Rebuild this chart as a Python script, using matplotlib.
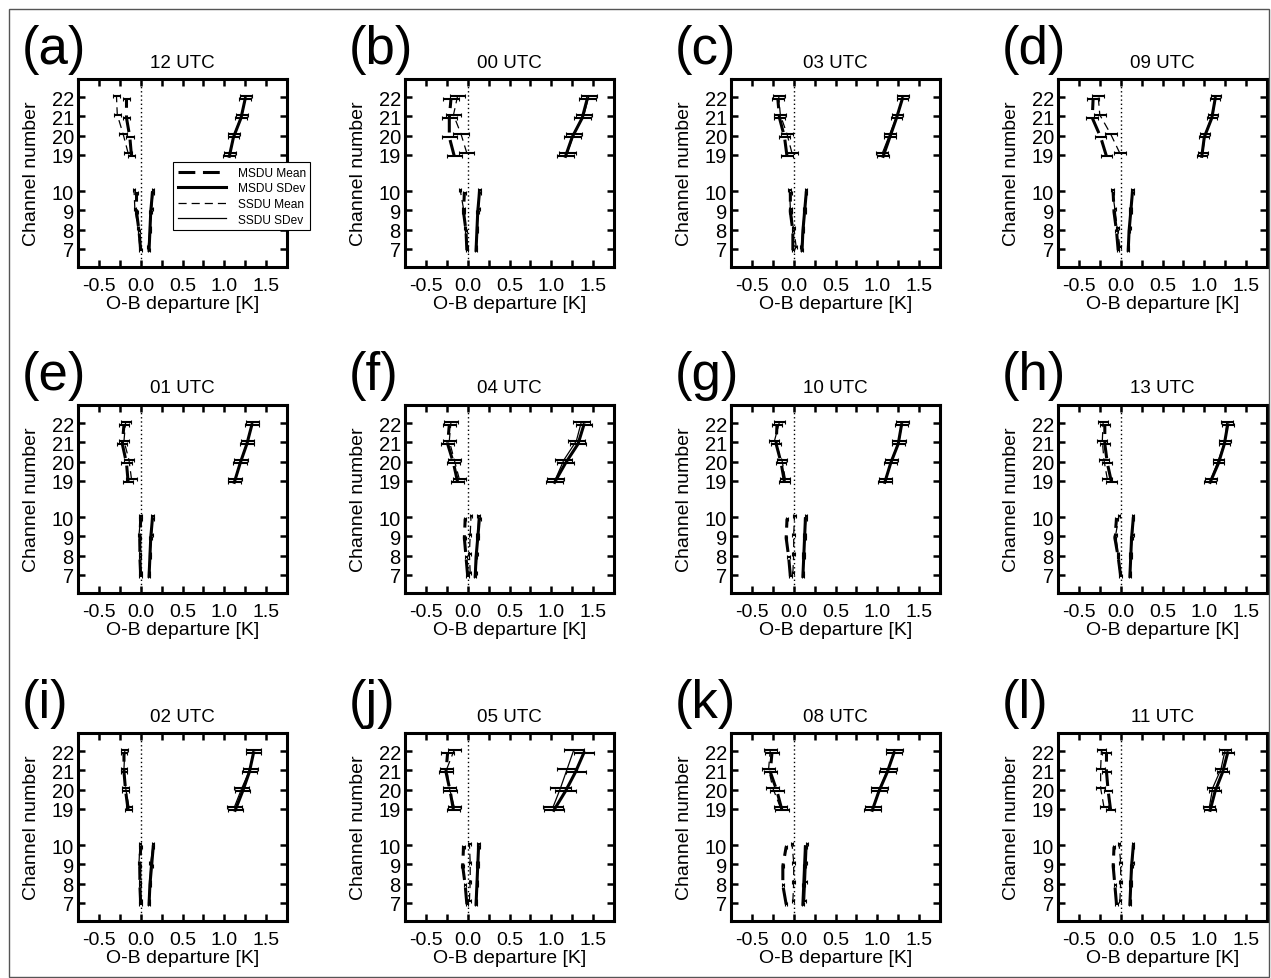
import numpy as np
import matplotlib
matplotlib.use('Agg')
import matplotlib.pyplot as plt
from matplotlib.lines import Line2D
from matplotlib.patches import Rectangle
from matplotlib.ticker import MultipleLocator

plt.rcParams['font.family'] = ['Liberation Sans', 'DejaVu Sans']
plt.rcParams['axes.unicode_minus'] = False

CHANNELS = [7, 8, 9, 10, 19, 20, 21, 22]
PANELS = ['(a)', '(b)', '(c)', '(d)', '(e)', '(f)', '(g)', '(h)', '(i)', '(j)', '(k)', '(l)']
TITLES = ['12 UTC', '00 UTC', '03 UTC', '09 UTC', '01 UTC', '04 UTC',
          '10 UTC', '13 UTC', '02 UTC', '05 UTC', '08 UTC', '11 UTC']

# values per panel, channels 7,8,9,10,19,20,21,22
MSDU_MEAN = [
    [0.00, -0.02, -0.05, -0.05, -0.11, -0.13, -0.17, -0.17],
    [-0.01, -0.02, -0.05, -0.04, -0.16, -0.22, -0.22, -0.20],
    [-0.01, -0.01, -0.04, -0.04, -0.08, -0.11, -0.17, -0.19],
    [-0.03, -0.05, -0.08, -0.09, -0.17, -0.24, -0.34, -0.33],
    [0.00, -0.01, -0.01, 0.00, -0.15, -0.17, -0.22, -0.20],
    [0.00, -0.02, -0.04, -0.03, -0.12, -0.17, -0.24, -0.22],
    [-0.04, -0.06, -0.09, -0.08, -0.11, -0.15, -0.21, -0.20],
    [0.00, -0.03, -0.07, -0.05, -0.11, -0.16, -0.19, -0.19],
    [0.00, -0.01, -0.01, 0.00, -0.15, -0.18, -0.20, -0.20],
    [-0.01, -0.03, -0.06, -0.05, -0.17, -0.21, -0.26, -0.24],
    [-0.09, -0.13, -0.13, -0.09, -0.14, -0.20, -0.28, -0.26],
    [-0.05, -0.07, -0.09, -0.08, -0.12, -0.15, -0.17, -0.17],
]
SSDU_MEAN = [
    [-0.01, -0.03, -0.07, -0.08, -0.15, -0.21, -0.28, -0.29],
    [-0.01, -0.03, -0.05, -0.09, -0.01, -0.08, -0.17, -0.12],
    [0.03, 0.00, -0.04, -0.05, -0.02, -0.08, -0.16, -0.18],
    [-0.01, -0.04, -0.07, -0.10, -0.01, -0.12, -0.25, -0.27],
    [0.00, -0.01, -0.02, 0.00, -0.11, -0.14, -0.20, -0.18],
    [0.03, 0.02, 0.03, 0.04, -0.10, -0.16, -0.22, -0.20],
    [-0.01, 0.00, 0.00, 0.01, -0.10, -0.14, -0.23, -0.17],
    [-0.01, -0.03, -0.06, -0.02, -0.16, -0.20, -0.22, -0.21],
    [0.00, -0.01, -0.02, -0.01, -0.14, -0.18, -0.20, -0.19],
    [0.02, 0.03, 0.03, 0.02, -0.16, -0.22, -0.25, -0.16],
    [-0.01, 0.00, 0.00, -0.02, -0.16, -0.25, -0.30, -0.28],
    [-0.01, 0.00, 0.00, -0.02, -0.20, -0.24, -0.24, -0.23],
]
MSDU_SDEV = [
    [0.10, 0.11, 0.12, 0.14, 1.06, 1.11, 1.20, 1.25],
    [0.10, 0.11, 0.12, 0.14, 1.17, 1.25, 1.37, 1.43],
    [0.10, 0.11, 0.13, 0.15, 1.07, 1.15, 1.23, 1.30],
    [0.09, 0.10, 0.12, 0.14, 0.97, 1.00, 1.09, 1.13],
    [0.10, 0.11, 0.12, 0.14, 1.12, 1.19, 1.27, 1.33],
    [0.09, 0.10, 0.12, 0.14, 1.04, 1.17, 1.32, 1.39],
    [0.11, 0.12, 0.13, 0.14, 1.09, 1.16, 1.25, 1.29],
    [0.11, 0.12, 0.13, 0.15, 1.07, 1.17, 1.24, 1.28],
    [0.10, 0.11, 0.13, 0.15, 1.13, 1.22, 1.30, 1.35],
    [0.10, 0.11, 0.12, 0.13, 1.03, 1.17, 1.29, 1.39],
    [0.11, 0.12, 0.13, 0.14, 0.94, 1.02, 1.12, 1.20],
    [0.11, 0.12, 0.13, 0.15, 1.07, 1.13, 1.22, 1.28],
]
SSDU_SDEV = [
    [0.09, 0.11, 0.13, 0.15, 1.07, 1.12, 1.21, 1.26],
    [0.10, 0.11, 0.13, 0.14, 1.19, 1.27, 1.39, 1.45],
    [0.09, 0.11, 0.13, 0.15, 1.06, 1.15, 1.24, 1.31],
    [0.09, 0.11, 0.12, 0.14, 0.98, 1.01, 1.10, 1.14],
    [0.10, 0.11, 0.13, 0.14, 1.13, 1.20, 1.28, 1.34],
    [0.10, 0.11, 0.12, 0.13, 1.05, 1.15, 1.30, 1.36],
    [0.11, 0.12, 0.13, 0.15, 1.10, 1.17, 1.26, 1.30],
    [0.11, 0.12, 0.14, 0.15, 1.08, 1.17, 1.25, 1.27],
    [0.10, 0.11, 0.12, 0.15, 1.12, 1.21, 1.31, 1.35],
    [0.10, 0.11, 0.12, 0.13, 1.02, 1.11, 1.19, 1.27],
    [0.13, 0.14, 0.15, 0.16, 0.95, 1.03, 1.13, 1.21],
    [0.11, 0.12, 0.14, 0.15, 1.06, 1.10, 1.20, 1.25],
]
# half widths of the error bars (upper channel group), per panel
ERR_MEAN = [0.045, 0.09, 0.07, 0.07, 0.06, 0.08, 0.06, 0.06, 0.04, 0.08, 0.08, 0.05]
ERR_SDEV = [0.07, 0.10, 0.07, 0.06, 0.08, 0.10, 0.08, 0.07, 0.09, 0.12, 0.10, 0.07]
ERR_LOW = [0.015, 0.015, 0.015, 0.015, 0.015, 0.015, 0.015, 0.015, 0.015, 0.015, 0.015, 0.015]

# y positions of channels on the broken axis
CHAN_POS = np.array([0, 1, 2, 3, 4.9, 5.9, 6.9, 7.9])
YLIM = (-0.95, 8.85)
XLIM = (-0.75, 1.75)

W, H = 1271, 979
LEFTS = [78, 405, 731, 1058]
TOPS = [80, 406, 734]
AX_W, AX_H = 209, 188

THICK = 2.2
THIN = 0.9


def plot_series(ax, vals, yoff, err_hi, err_lo, lw, dashes):
    x = np.array(vals)
    y = CHAN_POS + yoff
    xerr = np.array([err_lo] * 4 + [err_hi] * 4)
    for sl in (slice(0, 4), slice(4, 8)):
        eb = ax.errorbar(x[sl], y[sl], xerr=xerr[sl], color='k', lw=lw,
                         elinewidth=1.5, capsize=1.5, capthick=0.8, zorder=3)
        if dashes:
            eb.lines[0].set_dashes(dashes)


def plot_panel(ax, i):
    ax.axvline(0, color='k', lw=1.0, ls=(0, (1, 2)), zorder=1)
    plot_series(ax, MSDU_MEAN[i], -0.08, ERR_MEAN[i], ERR_LOW[i], THICK, (5.5, 2.5))
    plot_series(ax, MSDU_SDEV[i], -0.08, ERR_SDEV[i], ERR_LOW[i], THICK, None)
    plot_series(ax, SSDU_MEAN[i], 0.08, ERR_MEAN[i], ERR_LOW[i], THIN, (6.5, 4))
    plot_series(ax, SSDU_SDEV[i], 0.08, ERR_SDEV[i], ERR_LOW[i], THIN, None)

    ax.set_xlim(XLIM)
    ax.set_ylim(YLIM)
    ax.xaxis.set_major_locator(MultipleLocator(0.5))
    ax.xaxis.set_minor_locator(MultipleLocator(0.25))
    ax.set_xticklabels([f'{v:.1f}' for v in ax.get_xticks()])
    ax.set_yticks(CHAN_POS)
    ax.set_yticklabels([str(c) for c in CHANNELS])
    ax.tick_params(which='both', direction='in', top=True, right=True,
                   length=5, width=1.8)
    ax.tick_params(axis='x', labelsize=14, pad=7)
    ax.tick_params(axis='y', labelsize=14.5, pad=3)
    for sp in ax.spines.values():
        sp.set_linewidth(2.2)
    ax.set_xlabel('O-B departure [K]', fontsize=14, labelpad=1)
    ax.set_ylabel('Channel number', fontsize=14, labelpad=8)
    ax.set_title(TITLES[i], fontsize=13.5, pad=9)
    ax.text(-0.27, 1.085, PANELS[i], transform=ax.transAxes, fontsize=38,
            va='baseline', ha='left')


fig = plt.figure(figsize=(W / 100, H / 100), dpi=100)
fig.patches.append(Rectangle((9 / W, 1 / H), (1269 - 9) / W, (978 - 10) / H,
                             transform=fig.transFigure, fill=False,
                             edgecolor='#555555', lw=1.0))

axes = []
for i in range(12):
    r, c = divmod(i, 4)
    ax = fig.add_axes([LEFTS[c] / W, 1 - (TOPS[r] + AX_H) / H, AX_W / W, AX_H / H])
    plot_panel(ax, i)
    axes.append(ax)

handles = [
    Line2D([], [], color='k', lw=THICK, dashes=(5.5, 2.5)),
    Line2D([], [], color='k', lw=THICK),
    Line2D([], [], color='k', lw=THIN, dashes=(6.5, 4)),
    Line2D([], [], color='k', lw=THIN),
]
labels = ['MSDU Mean', 'MSDU SDev', 'SSDU Mean', 'SSDU SDev']
leg = fig.legend(handles, labels, loc='upper left',
                 bbox_to_anchor=(173 / W, 1 - 163 / H), fontsize=8.6,
                 handlelength=4.0, handletextpad=1.0, borderpad=0.4,
                 labelspacing=0.3, borderaxespad=0, fancybox=False,
                 framealpha=1, edgecolor='k')
leg.get_frame().set_linewidth(0.8)
leg.set_zorder(10)

fig.savefig('out.png', dpi=100)
